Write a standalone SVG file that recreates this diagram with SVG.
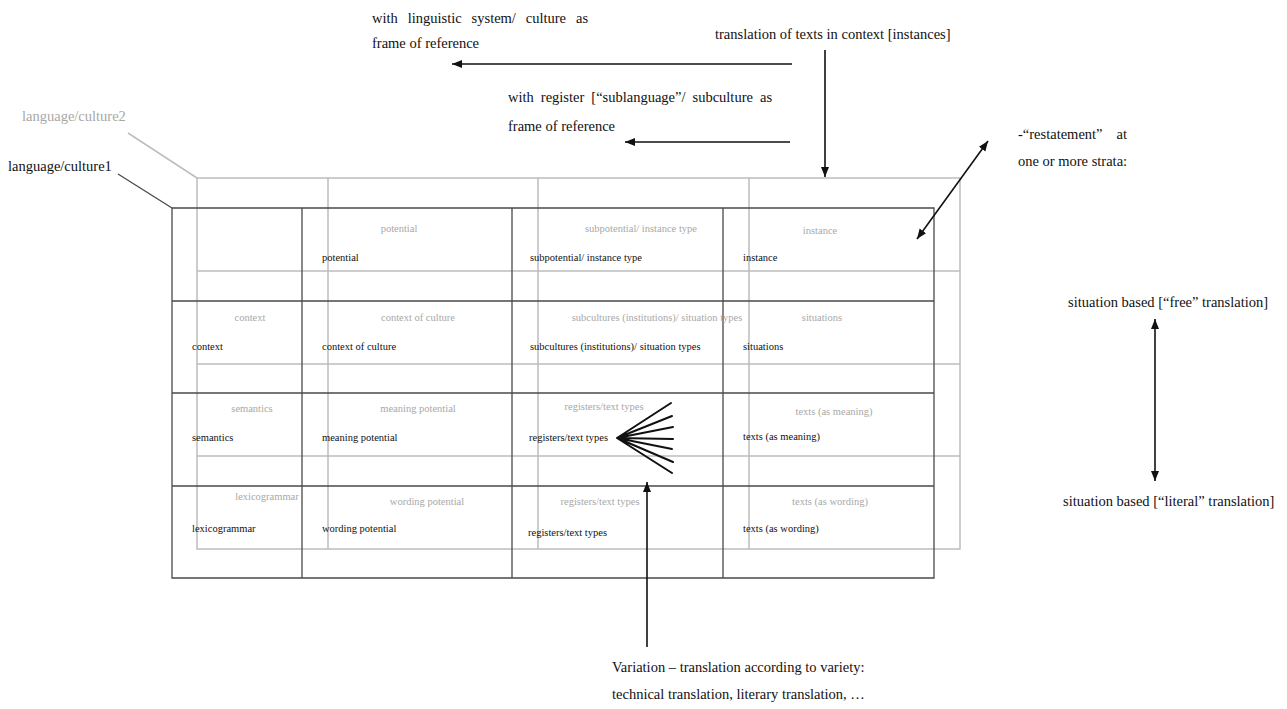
<svg xmlns="http://www.w3.org/2000/svg" width="1287" height="709" viewBox="0 0 1287 709">
<style>
text{font-family:"Liberation Serif","Times New Roman",serif;}
.lbl{font-size:14.5px;fill:#111;}
.c1{font-size:10.5px;fill:#111;}
.c2{font-size:10.5px;fill:#a8a8a8;text-anchor:middle;}
.g2{stroke:#bdbdbd;stroke-width:1.5;fill:none;}
.g1{stroke:#4a4a4a;stroke-width:1.3;fill:none;}
.arr{stroke:#111;stroke-width:1.6;fill:none;}
.fan{stroke:#111;stroke-width:2;fill:none;stroke-linecap:round;}
</style>
<defs>
<marker id="ah" markerUnits="userSpaceOnUse" markerWidth="12" markerHeight="10" refX="10" refY="4" orient="auto-start-reverse" viewBox="0 0 12 8">
<path d="M0,0 L10,4 L0,8 Z" fill="#111"/>
</marker>
</defs>
<rect width="1287" height="709" fill="#fff"/>

<g id="grid-culture2">
<path class="g2" d="M197,178 H960 V549 H197 Z M328,178 V549 M538,178 V549 M749,178 V549 M197,271 H960 M197,364 H960 M197,456 H960"/>
<line class="g2" x1="128" y1="133" x2="197" y2="178"/>
</g>
<g id="grid-culture1">
<path class="g1" d="M172,208 H934 V578 H172 Z M302,208 V578 M512,208 V578 M723,208 V578 M172,301 H934 M172,393 H934 M172,486 H934"/>
<line class="g1" x1="118" y1="174" x2="172" y2="208"/>
</g>

<g id="label-culture2"><text class="lbl" x="22" y="121" style="fill:#a8a8a8">language/culture2</text></g>
<g id="label-culture1"><text class="lbl" x="8" y="171">language/culture1</text></g>

<g id="cells-culture2">
<text class="c2" x="399" y="232">potential</text>
<text class="c2" x="641" y="232">subpotential/ instance type</text>
<text class="c2" x="820" y="234">instance</text>
<text class="c2" x="250" y="321">context</text>
<text class="c2" x="418" y="321">context of culture</text>
<text class="c2" x="657" y="321">subcultures (institutions)/ situation types</text>
<text class="c2" x="822" y="321">situations</text>
<text class="c2" x="252" y="412">semantics</text>
<text class="c2" x="418" y="412">meaning potential</text>
<text class="c2" x="604" y="410">registers/text types</text>
<text class="c2" x="834" y="415">texts (as meaning)</text>
<text class="c2" x="267" y="500">lexicogrammar</text>
<text class="c2" x="427" y="505">wording potential</text>
<text class="c2" x="600" y="505">registers/text types</text>
<text class="c2" x="830" y="505">texts (as wording)</text>
</g>

<g id="cells-culture1">
<text class="c1" x="322" y="261">potential</text>
<text class="c1" x="530" y="261">subpotential/ instance type</text>
<text class="c1" x="743" y="261">instance</text>
<text class="c1" x="192" y="350">context</text>
<text class="c1" x="322" y="350">context of culture</text>
<text class="c1" x="530" y="350">subcultures (institutions)/ situation types</text>
<text class="c1" x="743" y="350">situations</text>
<text class="c1" x="192" y="441">semantics</text>
<text class="c1" x="322" y="441">meaning potential</text>
<text class="c1" x="529" y="441">registers/text types</text>
<text class="c1" x="743" y="440">texts (as meaning)</text>
<text class="c1" x="192" y="532">lexicogrammar</text>
<text class="c1" x="322" y="532">wording potential</text>
<text class="c1" x="528" y="536">registers/text types</text>
<text class="c1" x="743" y="532">texts (as wording)</text>
</g>

<g id="note-system">
<text class="lbl" y="23"><tspan x="372">with</tspan> <tspan x="407.7">linguistic</tspan> <tspan x="471.6">system/</tspan> <tspan x="525.8">culture</tspan> <tspan x="576">as</tspan></text>
<text class="lbl" x="372" y="48">frame of reference</text>
</g>
<g id="note-register">
<text class="lbl" y="102"><tspan x="508">with</tspan> <tspan x="540.8">register</tspan> <tspan x="591.3">[“sublanguage”/</tspan> <tspan x="692.5">subculture</tspan> <tspan x="760">as</tspan></text>
<text class="lbl" x="508" y="131">frame of reference</text>
</g>
<g id="note-instances">
<text class="lbl" x="715" y="39">translation of texts in context [instances]</text>
</g>
<g id="note-restatement">
<text class="lbl" y="139"><tspan x="1018">-“restatement”</tspan> <tspan x="1116.5">at</tspan></text>
<text class="lbl" x="1018" y="166">one or more strata:</text>
</g>
<g id="note-free">
<text class="lbl" x="1068" y="307">situation based [“free” translation]</text>
</g>
<g id="note-literal">
<text class="lbl" x="1063" y="506">situation based [“literal” translation]</text>
</g>
<g id="note-variation">
<text class="lbl" x="612" y="672">Variation – translation according to variety:</text>
<text class="lbl" x="612" y="699">technical translation, literary translation, …</text>
</g>

<g id="connectors">
<line class="arr" x1="792" y1="64" x2="452" y2="64" marker-end="url(#ah)"/>
<line class="arr" x1="790" y1="142" x2="625" y2="142" marker-end="url(#ah)"/>
<line class="arr" x1="825" y1="50" x2="825" y2="177" marker-end="url(#ah)"/>
<line class="arr" x1="917" y1="239" x2="988" y2="141" marker-start="url(#ah)" marker-end="url(#ah)"/>
<line class="arr" x1="1155" y1="319" x2="1155" y2="481" marker-start="url(#ah)" marker-end="url(#ah)"/>
<line class="arr" x1="647" y1="647" x2="647" y2="482" marker-end="url(#ah)"/>
<g id="fan">
<path class="fan" d="M617,438 L671,403 M617,438 L672,416 M617,438 L673,427 M617,438 L673,439 M617,438 L672,449 M617,438 L673,462 M617,438 L672,473"/>
</g>
</g>
</svg>
